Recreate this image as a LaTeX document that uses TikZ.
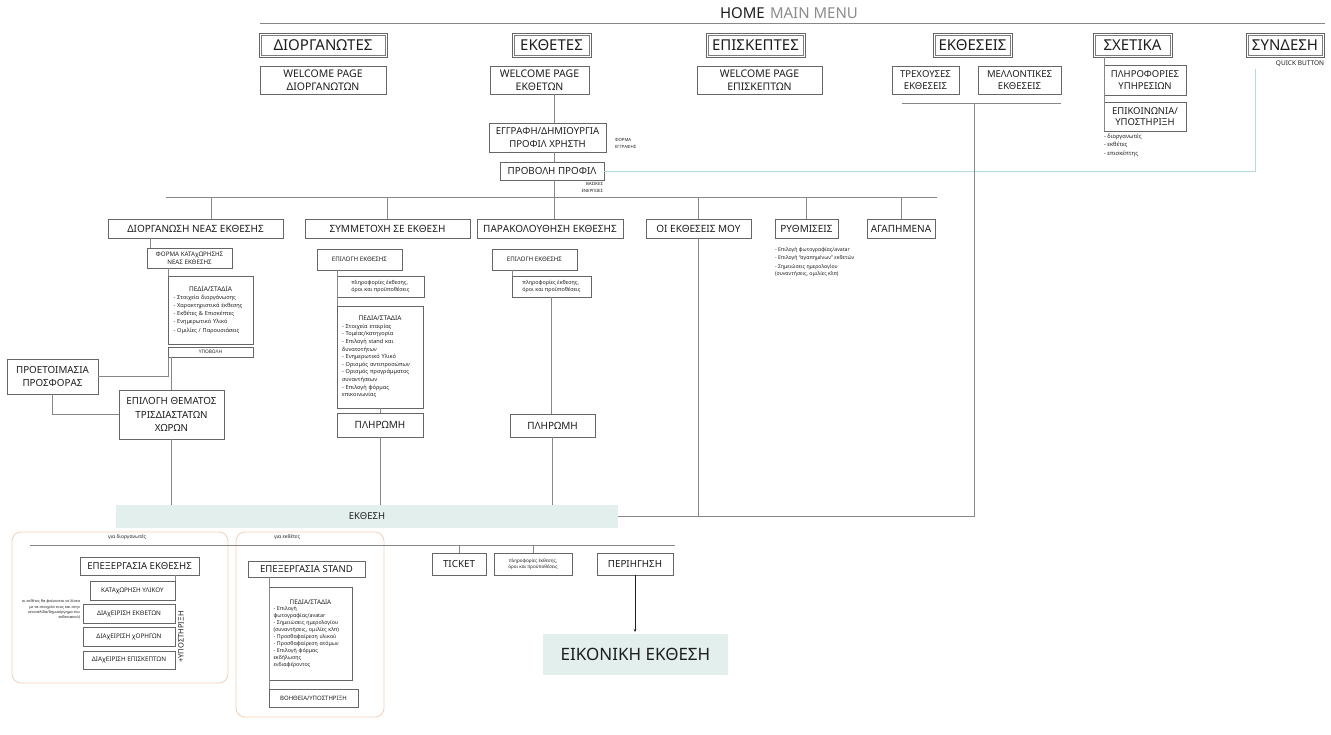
\documentclass[tikz,border=0pt]{standalone}
\usepackage{fontspec}
\setmainfont{Noto Sans}
\usetikzlibrary{arrows.meta}
\definecolor{boxgray}{HTML}{666666}
\definecolor{linegray}{HTML}{878787}
\definecolor{txt}{HTML}{1E1E1E}
\definecolor{menugray}{HTML}{8C8C8C}
\definecolor{tealc}{HTML}{B3DCD8}
\definecolor{barfill}{HTML}{E3EFED}
\definecolor{orangec}{HTML}{F5CFB3}
\newcommand\fsz[2]{\fontsize{#1}{#2}\selectfont}
\newcommand\mybox[7]{\node[#6, anchor=north west, minimum width={(#4-#2)*1pt}, minimum height={(#5-#3)*1pt}] (#1) at (#2,#3) {#7};}
\tikzset{
  bx/.style={draw=boxgray, line width=0.75pt, fill=white, inner sep=0pt, outer sep=0pt, align=center, text=txt},
  dbx/.style={bx, line width=0.9pt},
  inr/.style={draw=boxgray!85, line width=0.6pt},
  fillbox/.style={fill=barfill, inner sep=0pt, outer sep=0pt, align=center, text=txt},
  ln/.style={draw=linegray, line width=0.8pt},
  tl/.style={draw=tealc, line width=0.9pt},
  ob/.style={draw=orangec, line width=0.8pt, rounded corners=9pt},
  note/.style={inner sep=0pt, outer sep=0pt, align=left, text=txt},
}
\begin{document}
\begin{tikzpicture}[x=1pt,y=-1pt]
\useasboundingbox[fill=white] (0,0) rectangle (1331,734);

% header
\node[note, anchor=west, font={\fsz{15}{18}}] (home) at (720,13) {HOME\hspace{0.35em}\textcolor{menugray}{MAIN MENU}};
\draw[draw=linegray, line width=1pt] (260,23) -- (1325,23);

% main menu row
\mybox{d1}{259}{33}{387}{57}{dbx, font={\fsz{15}{18}}}{ΔΙΟΡΓΑΝΩΤΕΣ}
\mybox{d2}{512}{33}{591}{57}{dbx, font={\fsz{15}{18}}}{ΕΚΘΕΤΕΣ}
\mybox{d3}{706}{33}{805}{57}{dbx, font={\fsz{15}{18}}}{ΕΠΙΣΚΕΠΤΕΣ}
\mybox{d4}{933}{33}{1012}{57}{dbx, font={\fsz{15}{18}}}{ΕΚΘΕΣΕΙΣ}
\mybox{d5}{1093}{33}{1172}{57}{dbx, font={\fsz{15}{18}}}{ΣΧΕΤΙΚΑ}
\mybox{d6}{1246}{33}{1324}{57}{dbx, font={\fsz{15}{18}}}{ΣΥΝΔΕΣΗ}
\foreach \b in {d1,d2,d3,d4,d5,d6}
  \draw[inr] ([shift={(2.2pt,-2.2pt)}]\b.north west) rectangle ([shift={(-2.2pt,2.2pt)}]\b.south east);

% welcome pages
\mybox{w1}{260}{66}{386}{94}{bx, font={\fsz{10.5}{12.5}}}{WELCOME PAGE\\ΔΙΟΡΓΑΝΩΤΩΝ}
\mybox{w2}{490}{66}{589}{94}{bx, font={\fsz{10.5}{12.5}}}{WELCOME PAGE\\ΕΚΘΕΤΩΝ}
\mybox{w3}{697}{66}{822}{94}{bx, font={\fsz{10.5}{12.5}}}{WELCOME PAGE\\ΕΠΙΣΚΕΠΤΩΝ}

% exhibitions
\mybox{t1}{892}{66}{959}{94}{bx, font={\fsz{9.5}{11.5}}}{ΤΡΕΧΟΥΣΕΣ\\ΕΚΘΕΣΕΙΣ}
\mybox{t2}{978}{66}{1061}{94}{bx, font={\fsz{9.5}{11.5}}}{ΜΕΛΛΟΝΤΙΚΕΣ\\ΕΚΘΕΣΕΙΣ}
\coordinate (ekj) at (974,103);
\draw[ln] (902,103) -- (1061,103);

% about
\mybox{s1}{1104}{65}{1186}{95}{bx, font={\fsz{9.5}{11.5}}}{ΠΛΗΡΟΦΟΡΙΕΣ\\ΥΠΗΡΕΣΙΩΝ}
\mybox{s2}{1104}{102}{1186}{131}{bx, font={\fsz{9.5}{11.5}}}{ΕΠΙΚΟΙΝΩΝΙΑ/\\ΥΠΟΣΤΗΡΙΞΗ}
\draw[ln] (d5.south -| s1.west) -- (s2.south west);
\node[note, anchor=north west, font={\fsz{5.8}{8.3}}] (slist) at (1104,134) {- διοργανωτές\\- εκθέτες\\- επισκέπτης};

% login
\node[note, anchor=north east, font={\fsz{6.5}{8}}] (qb) at (1324,61) {QUICK BUTTON};
\coordinate (qbend) at (1255,69);

% profile column
\mybox{e1}{489}{123}{606}{152}{bx, font={\fsz{9.6}{12.5}}}{ΕΓΓΡΑΦΗ/ΔΗΜΙΟΥΡΓΙΑ\\ΠΡΟΦΙΛ ΧΡΗΣΤΗ}
\node[note, anchor=north west, font={\fsz{4.3}{7}}] (fe) at (615,138) {ΦΟΡΜΑ\\ΕΓΓΡΑΦΗΣ};
\mybox{p1}{500}{162}{604}{180}{bx, font={\fsz{9.8}{12}}}{ΠΡΟΒΟΛΗ ΠΡΟΦΙΛ}
\node[note, anchor=north east, align=right, font={\fsz{4.3}{7}}] (be) at (603,182) {ΒΑΣΙΚΕΣ\\ΕΝΕΡΓΕΙΕΣ};
\draw[tl] (qbend) |- (p1.east);

% actions row
\mybox{a1}{108}{219}{283}{238}{bx, font={\fsz{10}{12}}}{ΔΙΟΡΓΑΝΩΣΗ ΝΕΑΣ ΕΚΘΕΣΗΣ}
\mybox{a2}{305}{219}{470}{238}{bx, font={\fsz{10}{12}}}{ΣΥΜΜΕΤΟΧΗ ΣΕ ΕΚΘΕΣΗ}
\mybox{a3}{477}{219}{623}{238}{bx, font={\fsz{10}{12}}}{ΠΑΡΑΚΟΛΟΥΘΗΣΗ ΕΚΘΕΣΗΣ}
\mybox{a4}{646}{219}{751}{238}{bx, font={\fsz{10}{12}}}{ΟΙ ΕΚΘΕΣΕΙΣ ΜΟΥ}
\mybox{a5}{775}{219}{838}{238}{bx, font={\fsz{10}{12}}}{ΡΥΘΜΙΣΕΙΣ}
\mybox{a6}{867}{219}{935}{238}{bx, font={\fsz{10}{12}}}{ΑΓΑΠΗΜΕΝΑ}

\coordinate (mx) at (554,0);
\coordinate (bus) at (0,197);
\draw[ln] (w2.south -| mx) -- (e1.north -| mx);
\draw[ln] (e1.south -| mx) -- (p1.north -| mx);
\draw[ln] (p1.south -| mx) -- (a3.north -| mx);
\draw[ln] (166,197) -- (937,197);
\draw[ln] ([xshift=16pt]a1.north) -- ([xshift=16pt]a1.north |- bus);
\draw[ln] (a2.north) -- (a2.north |- bus);
\draw[ln] (a4.north) -- (a4.north |- bus);
\draw[ln] (a5.north) -- (a5.north |- bus);
\draw[ln] (a6.north) -- (a6.north |- bus);

\node[note, anchor=north west, font={\fsz{5.2}{7.3}}] (rlist) at (775,247) {- Επιλογή φωτογραφίας/avatar\\[1.5pt]- Επιλογή “αγαπημένων” εκθετών\\[1.5pt]- Σημειώσεις ημερολογίου\\(συναντήσεις, ομιλίες κλπ)};

% organise column
\mybox{f1}{147}{248}{232}{268}{bx, font={\bfseries\fsz{6.2}{8}}}{ΦΟΡΜΑ ΚΑΤΑχΩΡΗΣΗΣ\\ΝΕΑΣ ΕΚΘΕΣΗΣ}
\mybox{g1}{168}{276}{253}{344}{bx, align=left, text width=74pt, font={\fsz{5.6}{8.2}}}{{\centering\bfseries\fsz{6.5}{9}ΠΕΔΙΑ/ΣΤΑΔΙΑ\par}- Στοιχεία διοργάνωσης\\- Χαρακτηριστικά έκθεσης\\- Εκθέτες \& Επισκέπτες\\- Ενημερωτικό Υλικό\\- Ομιλίες / Παρουσιάσεις}
\mybox{h1}{168}{347}{253}{357}{bx, font={\fsz{4.8}{6}}}{ΥΠΟΒΟΛΗ}
\mybox{k1}{7}{359}{98}{394}{bx, font={\fsz{9.8}{13}}}{ΠΡΟΕΤΟΙΜΑΣΙΑ\\ΠΡΟΣΦΟΡΑΣ}
\mybox{k2}{119}{390}{224}{439}{bx, font={\fsz{9.8}{13.5}}}{ΕΠΙΛΟΓΗ ΘΕΜΑΤΟΣ\\ΤΡΙΣΔΙΑΣΤΑΤΩΝ\\ΧΩΡΩΝ}
\draw[ln] ([xshift=3pt]f1.north west) -- ([xshift=3pt]f1.north west |- a1.south);
\draw[ln] (f1.south -| g1.west) -- (g1.north west);
\draw[ln] (k1.east) -- (k1.east -| h1.west) -- (h1.south west);
\draw[ln] ([xshift=3pt]h1.south west) -- ([xshift=3pt]h1.south west |- k2.north);
\draw[ln] (k1.south) |- (k2.west);

% participate column
\mybox{m1}{317}{249}{402}{270}{bx, font={\bfseries\fsz{6.2}{8}}}{ΕΠΙΛΟΓΗ ΕΚΘΕΣΗΣ}
\mybox{m2}{337}{276}{424}{297}{bx, align=left, font={\fsz{5.4}{7.5}}}{πληροφορίες έκθεσης,\\όροι και προϋποθέσεις}
\mybox{m3}{337}{306}{423}{408}{bx, align=left, text width=76pt, font={\fsz{5.6}{7.6}}}{{\centering\bfseries\fsz{6.5}{9}ΠΕΔΙΑ/ΣΤΑΔΙΑ\par}- Στοιχεία εταιρίας\\- Τομέας/κατηγορία\\- Επιλογή stand και\\δυνατοτήτων\\- Ενημερωτικό Υλικό\\- Ορισμός αντιπροσώπων\\- Ορισμός προγράμματος\\συναντήσεων\\- Επιλογή φόρμας\\επικοινωνίας}
\mybox{m4}{337}{413}{423}{437}{bx, font={\fsz{10}{12}}}{ΠΛΗΡΩΜΗ}
\draw[ln] (m1.south -| m2.west) -- (m3.north west);
\draw[ln] (m3.south) -- (m4.north);

% follow column
\mybox{n1}{492}{249}{577}{270}{bx, font={\bfseries\fsz{6.2}{8}}}{ΕΠΙΛΟΓΗ ΕΚΘΕΣΗΣ}
\mybox{n2}{512}{276}{591}{297}{bx, align=left, font={\fsz{5.4}{7.5}}}{πληροφορίες έκθεσης,\\όροι και προϋποθέσεις}
\mybox{n4}{510}{414}{595}{437}{bx, font={\fsz{10}{12}}}{ΠΛΗΡΩΜΗ}
\draw[ln] (n1.south -| n2.west) -- (n2.north west);
\draw[ln] (n2.south) -- (n2.south |- n4.north);

% exhibition bar
\mybox{bar}{116}{505}{618}{528}{fillbox, font={\fsz{9.5}{11}}}{ΕΚΘΕΣΗ}
\draw[ln] (k2.south) -- (k2.south |- bar.north);
\draw[ln] (m4.south) -- (m4.south |- bar.north);
\draw[ln] (n4.south) -- (n4.south |- bar.north);
\draw[ln] (a4.south) -- (a4.south |- bar.east);
\draw[ln] (bar.east) -| (ekj);

% lower section
\draw[ob] (12,532) rectangle (228,683);
\draw[ob] (236,532) rectangle (384,717);
\coordinate (lbus) at (0,545);
\draw[ln] (30,545) -- (675,545);
\node[note, anchor=west, font={\fsz{5}{6}}] (gd) at (108,537) {για διοργανωτές};
\node[note, anchor=west, font={\fsz{5}{6}}] (ge) at (274,537) {για εκθέτες};

\mybox{q1}{80}{557}{199}{575}{bx, font={\fsz{9.6}{11}}}{ΕΠΕΞΕΡΓΑΣΙΑ ΕΚΘΕΣΗΣ}
\mybox{q2}{90}{581}{175}{600}{bx, font={\fsz{6.3}{8}}}{ΚΑΤΑχΩΡΗΣΗ ΥΛΙΚΟΥ}
\mybox{q3}{83}{604}{175}{623}{bx, font={\fsz{6.3}{8}}}{ΔΙΑχΕΙΡΙΣΗ ΕΚΘΕΤΩΝ}
\mybox{q4}{83}{627}{175}{646}{bx, font={\fsz{6.3}{8}}}{ΔΙΑχΕΙΡΙΣΗ χΟΡΗΓΩΝ}
\mybox{q5}{83}{651}{175}{669}{bx, font={\fsz{6.3}{8}}}{ΔΙΑχΕΙΡΙΣΗ ΕΠΙΣΚΕΠΤΩΝ}
\draw[ln] (q1.south -| q2.east) -- (q2.north east);
\node[note, rotate=90, font={\fsz{7.5}{8}}] (sup) at (181,637) {+ΥΠΟΣΤΗΡΙΞΗ};
\node[note, anchor=north east, align=right, font={\fsz{3.8}{5.2}}] (nt) at (80,600) {οι εκθέτες θα φαίνονται σε λίστα\\με τα στοιχεία τους και στην\\ιστοσελίδα/δημιούργημα του\\εκθεσιακού)};

\mybox{r1}{248}{561}{365}{577}{bx, font={\fsz{9.6}{11}}}{ΕΠΕΞΕΡΓΑΣΙΑ STAND}
\mybox{r2}{269}{587}{352}{680}{bx, align=left, text width=74pt, font={\fsz{5.3}{6.9}}}{{\centering\bfseries\fsz{6.3}{9}ΠΕΔΙΑ/ΣΤΑΔΙΑ\par}- Επιλογή\\φωτογραφίας/avatar\\- Σημειώσεις ημερολογίου\\(συναντήσεις, ομιλίες κλπ)\\- Προσθαφαίρεση υλικού\\- Προσθαφαίρεση ατόμων\\- Επιλογή φόρμας\\εκδήλωσης\\ενδιαφέροντος}
\mybox{r3}{269}{689}{358}{707}{bx, font={\bfseries\fsz{6}{8}}}{ΒΟΗΘΕΙΑ/ΥΠΟΣΤΗΡΙΞΗ}
\draw[ln] (r1.south -| r2.west) -- (r3.north west);

\mybox{u1}{432}{553}{486}{575}{bx, font={\fsz{9.8}{11}}}{TICKET}
\mybox{u2}{494}{553}{572}{575}{bx, font={\fsz{4.6}{6}}}{πληροφορίες έκθεσης,\\όροι και προϋποθέσεις}
\mybox{u3}{597}{553}{673}{575}{bx, font={\fsz{9.8}{11}}}{ΠΕΡΙΗΓΗΣΗ}
\draw[ln] (u1.north |- lbus) -- (u1.north);
\draw[ln] (u2.north |- lbus) -- (u2.north);
\mybox{vx}{543}{634}{728}{675}{fillbox, font={\fsz{17}{20}}}{ΕΙΚΟΝΙΚΗ ΕΚΘΕΣΗ}
\draw[ln, draw=txt, line width=0.6pt, -{Stealth[length=3pt,width=2.6pt]}, shorten >=2pt] (u3.south) -- (u3.south |- vx.north);
\end{tikzpicture}
\end{document}
